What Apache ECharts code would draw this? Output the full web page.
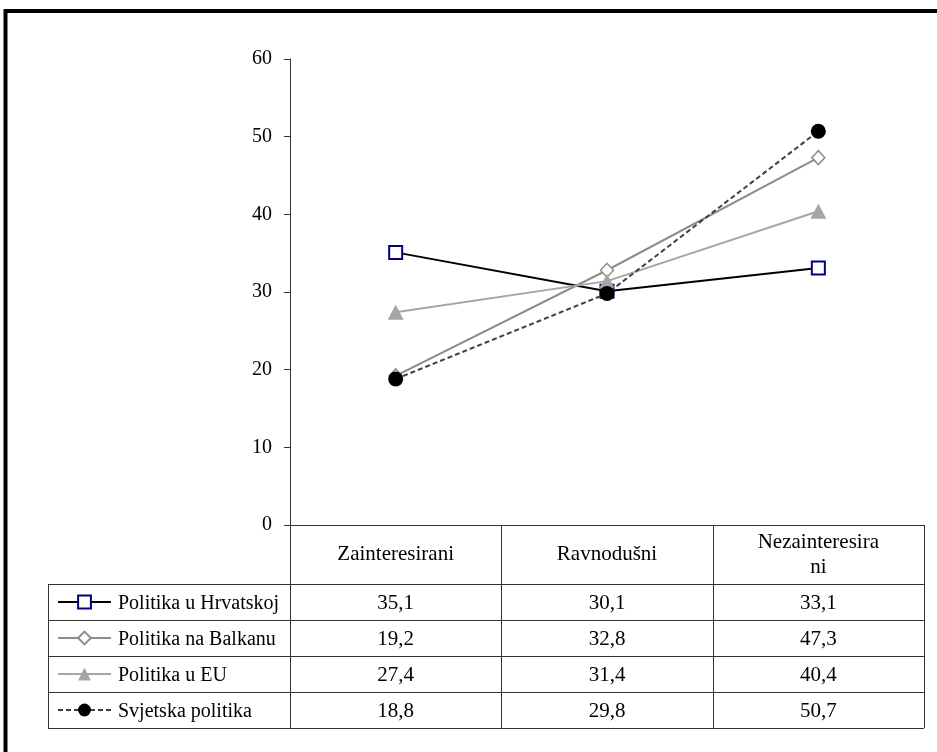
<!DOCTYPE html>
<html>
<head>
<meta charset="utf-8">
<script src="https://cdn.jsdelivr.net/npm/echarts@6/dist/echarts.min.js"></script>
<style>
  html, body { margin: 0; padding: 0; background: #fff; }
  #chart { width: 937px; height: 752px; }
</style>
</head>
<body>
<div id="chart"></div>
<script>
// ---- data ----
const categories = ['Zainteresirani', 'Ravnodušni', 'Nezainteresirani'];
const categoryLabels = ['Zainteresirani', 'Ravnodušni', 'Nezainteresira\nni'];
const seriesNames = ['Politika u Hrvatskoj', 'Politika na Balkanu', 'Politika u EU', 'Svjetska politika'];
const hrvatska = [35.1, 30.1, 33.1];
const balkan = [19.2, 32.8, 47.3];
const eu = [27.4, 31.4, 40.4];
const svijet = [18.8, 29.8, 50.7];
const yTicks = [0, 10, 20, 30, 40, 50, 60];
const allValues = [hrvatska, balkan, eu, svijet];

const FONT = '"Liberation Serif", "Times New Roman", serif';
const LINE = '#333333';

const chart = echarts.init(document.getElementById('chart'), null, { renderer: 'canvas' });

const gridLeft = 290, gridRight = 13, gridTop = 59, gridBottom = 227;

const option = {
  animation: false,
  backgroundColor: '#ffffff',
  grid: { left: gridLeft, right: gridRight, top: gridTop, bottom: gridBottom, containLabel: false },
  xAxis: {
    type: 'category',
    data: categories,
    boundaryGap: true,
    axisLine: { show: true, lineStyle: { color: LINE, width: 1 } },
    axisTick: { show: false },
    axisLabel: { show: false },
    splitLine: { show: false }
  },
  yAxis: {
    type: 'value',
    min: yTicks[0],
    max: yTicks[yTicks.length - 1],
    interval: 10,
    axisLine: { show: true, lineStyle: { color: LINE, width: 1 } },
    axisTick: { show: true, length: 6, lineStyle: { color: LINE } },
    axisLabel: { margin: 18, fontFamily: FONT, fontSize: 20, color: '#000' },
    splitLine: { show: false }
  },
  legend: {
    orient: 'vertical',
    left: 57,
    top: 590,
    padding: 0,
    itemWidth: 53,
    itemHeight: 16,
    itemGap: 12,
    formatter: '{t|{name}}',
    textStyle: {
      fontFamily: FONT, fontSize: 20, color: '#000', lineHeight: 24,
      rich: { t: { fontFamily: FONT, fontSize: 20, color: '#000', lineHeight: 24, padding: [4, 0, 0, 2] } }
    },
    data: seriesNames
  },
  series: [
    {
      name: seriesNames[0], type: 'line', data: hrvatska,
      symbol: 'rect', symbolSize: 13,
      lineStyle: { color: '#000000', width: 2 },
      itemStyle: { color: '#ffffff', borderColor: '#000080', borderWidth: 2 },
      z: 2
    },
    {
      name: seriesNames[1], type: 'line', data: balkan,
      symbol: 'diamond', symbolSize: [13, 14],
      lineStyle: { color: '#8c8c8c', width: 2 },
      itemStyle: { color: '#ffffff', borderColor: '#8c8c8c', borderWidth: 1.5 },
      z: 3
    },
    {
      name: seriesNames[2], type: 'line', data: eu,
      symbol: 'triangle', symbolSize: [16, 15],
      lineStyle: { color: '#a6a6a6', width: 2 },
      itemStyle: { color: '#a6a6a6', borderColor: '#a6a6a6', borderWidth: 0 },
      z: 4
    },
    {
      name: seriesNames[3], type: 'line', data: svijet,
      symbol: 'circle', symbolSize: 15,
      lineStyle: { color: '#404040', width: 2, type: [5, 3] },
      itemStyle: { color: '#000000', borderColor: '#000000', borderWidth: 0 },
      z: 5
    }
  ]
};

chart.setOption(option);

// ---- table built from the chart's own scale ----
const centers = categories.map((c, i) => chart.convertToPixel({ xAxisIndex: 0 }, i));
const band = centers[1] - centers[0];
const axisY = chart.convertToPixel({ yAxisIndex: 0 }, 0);
const colEdges = [centers[0] - band / 2].concat(centers.map(c => c + band / 2));
const tableLeft = 48;
const headerBottom = 584;
const rowH = 36;
const tableBottom = headerBottom + rowH * seriesNames.length;

const g = [];
// outer frame
g.push({ type: 'rect', shape: { x: 5.5, y: 11, width: 1000, height: 1000 },
  style: { fill: null, stroke: '#000', lineWidth: 4 }, silent: true });
// horizontal lines
for (let r = 0; r <= seriesNames.length; r++) {
  const y = headerBottom + r * rowH + 0.5;
  g.push({ type: 'line', shape: { x1: tableLeft, y1: y, x2: colEdges[colEdges.length - 1], y2: y },
    style: { stroke: LINE, lineWidth: 1 }, silent: true });
}
// vertical lines
g.push({ type: 'line', shape: { x1: tableLeft + 0.5, y1: headerBottom, x2: tableLeft + 0.5, y2: tableBottom },
  style: { stroke: LINE, lineWidth: 1 }, silent: true });
colEdges.forEach(x => {
  const xx = Math.round(x) + 0.5;
  g.push({ type: 'line', shape: { x1: xx, y1: axisY, x2: xx, y2: tableBottom },
    style: { stroke: LINE, lineWidth: 1 }, silent: true });
});
// header texts
categoryLabels.forEach((lab, i) => {
  g.push({ type: 'text', x: centers[i], y: (axisY + headerBottom) / 2,
    style: { text: lab, fontFamily: FONT, fontSize: 21, lineHeight: 25, fill: '#000',
      align: 'center', verticalAlign: 'middle' }, silent: true });
});
// value cells
allValues.forEach((vals, r) => {
  vals.forEach((v, i) => {
    g.push({ type: 'text', x: centers[i], y: headerBottom + r * rowH + rowH / 2 + 1,
      style: { text: v.toFixed(1).replace('.', ','), fontFamily: FONT, fontSize: 21, fill: '#000',
        align: 'center', verticalAlign: 'middle' }, silent: true });
  });
});

chart.setOption({ graphic: { elements: g } });
</script>
</body>
</html>
